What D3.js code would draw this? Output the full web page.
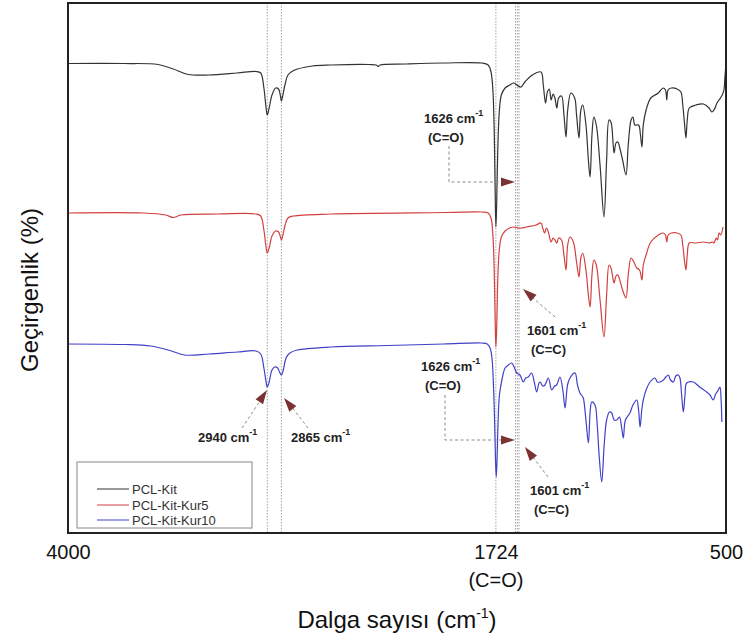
<!DOCTYPE html>
<html>
<head>
<meta charset="utf-8">
<script src="https://cdn.jsdelivr.net/npm/d3@7"></script>
<style>
  body { margin: 0; background: #fff; }
  text { font-family: "Liberation Sans", Arial, sans-serif; }
</style>
</head>
<body>
<div id="chart"></div>
<script>
// wavenumber (cm-1) and transmittance (a.u., spectra stacked)
var pclKit = [
  [4000,469.5],[3700,469.5],[3520,468.5],[3440,464],[3360,458.5],[3250,458],[3100,460],[3000,461.5],[2975,460],
  [2958,445],[2948,428],[2940,418],[2930,425],[2915,438],[2895,445],[2880,444],[2870,437],[2865,432],[2858,437],
  [2845,449],[2830,458],[2800,462.5],[2700,467],[2600,468],[2400,468.5],[2360,468],[2350,466.5],[2340,468],
  [2200,469],[2000,470],[1800,470],[1765,468],[1750,461],[1740,443],[1733,403],[1728,343],[1724,306],[1720,328],
  [1714,383],[1706,421],[1695,438],[1675,445],[1650,448],[1628,450],[1605,447],[1590,446],[1570,451],[1530,458],
  [1484,461],[1472,448],[1460,430],[1450,441],[1440,444],[1430,433],[1420,439],[1410,435],[1400,425],[1390,435],
  [1375,437],[1362,418],[1351,396],[1342,423],[1325,440],[1305,435],[1295,418],[1282,395],[1272,423],[1262,428],
  [1245,408],[1232,373],[1223,356],[1213,398],[1203,416],[1190,408],[1170,368],[1149,316],[1135,373],[1122,413],
  [1112,411],[1100,388],[1095,380],[1085,390],[1075,391],[1065,385],[1050,373],[1032,358],[1020,388],[1005,413],
  [995,416],[985,408],[965,408],[955,398],[947,386],[940,408],[925,423],[900,435],[860,440],[835,445],[822,443],
  [815,433],[808,443],[790,445],[760,444],[740,441],[730,428],[720,408],[713,395],[706,413],[695,425],[660,428],
  [620,429],[590,425],[575,421],[564,423],[548,430],[537,433],[520,438],[511,443],[506,455],[502,465]
];
var pclKitKur5 = [
  [4000,320],[3600,320],[3480,318],[3440,315.5],[3400,318],[3200,319],[3000,319],[2975,317],[2958,303],[2948,288],
  [2940,280],[2930,285],[2915,297],[2895,302],[2880,301],[2870,296],[2865,293],[2858,297],[2845,308],[2830,315],
  [2800,317],[2600,319],[2000,320.5],[1800,321],[1765,320],[1750,315],[1740,298],[1733,263],[1728,213],[1724,186],
  [1720,203],[1714,253],[1706,283],[1695,296],[1675,302],[1650,305],[1628,306],[1605,305],[1585,305],[1560,306],
  [1510,308],[1484,310],[1475,305],[1465,300],[1455,305],[1445,301],[1430,291],[1420,295],[1410,293],[1400,290],
  [1390,295],[1375,293],[1362,278],[1351,263],[1342,288],[1330,296],[1312,291],[1295,271],[1282,256],[1272,275],
  [1262,280],[1245,263],[1232,238],[1223,226],[1213,258],[1203,273],[1190,268],[1170,233],[1149,196],[1135,238],
  [1122,268],[1112,265],[1100,253],[1095,250],[1085,257],[1075,258],[1065,253],[1050,243],[1032,235],[1020,258],
  [1005,275],[990,271],[975,265],[960,263],[947,253],[940,268],[925,278],[900,291],[860,298],[835,300],[822,298],
  [815,291],[808,298],[790,300],[760,300],[740,298],[730,288],[720,271],[713,263],[706,278],[695,290],[660,290],
  [620,291],[590,290],[570,291],[564,290],[552,295],[545,293],[537,300],[528,298],[516,306]
];
var pclKitKur10 = [
  [4000,189],[3700,188.5],[3560,187],[3450,182],[3380,178],[3250,179],[3100,181],[3000,182],[2975,179],[2958,165],
  [2948,153],[2940,146],[2930,151],[2915,163],[2900,166],[2885,165],[2875,161],[2865,158],[2855,163],[2840,175],
  [2820,180],[2780,183],[2600,186],[2300,187.5],[2000,189],[1800,190],[1770,189],[1755,185],[1745,175],[1738,153],
  [1731,113],[1726,73],[1722,56],[1718,73],[1712,113],[1705,138],[1690,155],[1675,165],[1658,168],[1640,170],
  [1625,165],[1613,160],[1596,158],[1578,151],[1565,155],[1552,156],[1534,160],[1520,151],[1507,141],[1495,150],
  [1489,151],[1475,147],[1463,148],[1445,155],[1427,143],[1412,147],[1401,148],[1383,156],[1368,143],[1356,125],
  [1343,148],[1330,155],[1303,160],[1290,148],[1277,140],[1265,137],[1259,135],[1245,113],[1232,90],[1222,123],
  [1214,131],[1197,128],[1185,108],[1175,78],[1161,51],[1148,88],[1135,113],[1120,121],[1108,120],[1095,113],
  [1081,113],[1067,116],[1055,105],[1046,95],[1035,113],[1011,120],[995,128],[975,133],[965,123],[957,106],
  [948,123],[940,133],[925,143],[904,151],[878,155],[865,151],[851,151],[833,153],[820,156],[807,158],[795,153],
  [780,151],[767,157],[754,158],[745,155],[736,138],[727,121],[718,138],[709,150],[674,151],[640,146],[603,141],
  [585,138],[568,133],[555,139],[541,143],[532,146],[526,133],[522,111]
];

var seriesNames = ["PCL-Kit", "PCL-Kit-Kur5", "PCL-Kit-Kur10"];
var colors = ["#333333", "#d24040", "#4040c8"];
var tickValues = [4000, 1724, 500];
var markerLines = [2940, 2865, 1724, 1620, 1610, 1601];

var W = 746, H = 638;
var margin = {top: 3, right: 20, bottom: 105, left: 68};
var pw = W - margin.left - margin.right;
var ph = H - margin.top - margin.bottom;

var svg = d3.select("#chart").append("svg")
  .attr("width", W)
  .attr("height", H);

var x = d3.scaleLinear().domain([4000, 500]).range([margin.left, margin.left + pw]);
var y = d3.scaleLinear().domain([0, 530]).range([margin.top + ph, margin.top]);

// dotted marker lines
svg.append("g").selectAll("line")
  .data(markerLines)
  .enter().append("line")
  .attr("x1", function(d) { return x(d); })
  .attr("x2", function(d) { return x(d); })
  .attr("y1", margin.top)
  .attr("y2", margin.top + ph)
  .attr("stroke", "#8a8a8a")
  .attr("stroke-width", 0.8)
  .attr("stroke-dasharray", "1.5,1.5");

var line = d3.line()
  .x(function(d) { return x(d[0]); })
  .y(function(d) { return y(d[1]); })
  .curve(d3.curveCatmullRom.alpha(0.5));

svg.append("g").selectAll("path")
  .data([pclKit, pclKitKur5, pclKitKur10])
  .enter().append("path")
  .attr("d", line)
  .attr("fill", "none")
  .attr("stroke", function(d, i) { return colors[i]; })
  .attr("stroke-width", 1.2);

// frame
svg.append("rect")
  .attr("x", margin.left)
  .attr("y", margin.top)
  .attr("width", pw)
  .attr("height", ph)
  .attr("fill", "none")
  .attr("stroke", "#222")
  .attr("stroke-width", 2);

// x axis labels (no tick marks)
var xAxis = d3.axisBottom(x).tickValues(tickValues).tickSize(0).tickPadding(12)
  .tickFormat(d3.format("d"));
var gx = svg.append("g")
  .attr("transform", "translate(0," + (margin.top + ph) + ")")
  .call(xAxis);
gx.select(".domain").remove();
gx.selectAll("text")
  .attr("font-family", "Liberation Sans, Arial, sans-serif")
  .attr("font-size", 20)
  .attr("fill", "#111");

svg.append("text")
  .attr("x", x(1724))
  .attr("y", 587)
  .attr("text-anchor", "middle")
  .attr("font-size", 20)
  .attr("fill", "#111")
  .text("(C=O)");

var xt = svg.append("text")
  .attr("x", 397)
  .attr("y", 628)
  .attr("text-anchor", "middle")
  .attr("font-size", 24)
  .attr("fill", "#111");
xt.append("tspan").text("Dalga sayısı (cm");
xt.append("tspan").attr("font-size", 14).attr("dy", -10).text("-1");
xt.append("tspan").attr("dy", 10).text(")");

svg.append("text")
  .attr("transform", "translate(38,290) rotate(-90)")
  .attr("text-anchor", "middle")
  .attr("font-size", 24)
  .attr("fill", "#111")
  .text("Geçirgenlik (%)");

// annotations
var arrowColor = "#7a3232";
var dashColor = "#8c8c8c";

function arrowHead(x1, y1, x2, y2) {
  // triangle pointing from (x1,y1) towards tip (x2,y2)
  var a = Math.atan2(y2 - y1, x2 - x1);
  var len = 14, hw = 4.5;
  var bx = x2 - len * Math.cos(a), by = y2 - len * Math.sin(a);
  var px = -Math.sin(a) * hw, py = Math.cos(a) * hw;
  svg.append("path")
    .attr("d", "M" + x2 + "," + y2 + "L" + (bx + px) + "," + (by + py) + "L" + (bx - px) + "," + (by - py) + "Z")
    .attr("fill", arrowColor);
}

function dashed(d) {
  svg.append("path")
    .attr("d", d)
    .attr("fill", "none")
    .attr("stroke", dashColor)
    .attr("stroke-width", 1)
    .attr("stroke-dasharray", "3,2.5");
}

function label(tx, ty, num, anchor, sub) {
  var t = svg.append("text")
    .attr("x", tx).attr("y", ty)
    .attr("text-anchor", anchor || "start")
    .attr("font-size", 13)
    .attr("font-weight", "bold")
    .attr("fill", "#222");
  t.append("tspan").text(num + " cm");
  t.append("tspan").attr("font-size", 9).attr("dy", -7).text("-1");
  if (sub) {
    svg.append("text")
      .attr("x", tx + 4).attr("y", ty + 19)
      .attr("font-size", 13)
      .attr("font-weight", "bold")
      .attr("fill", "#222")
      .text(sub);
  }
}

// 1626 C=O (upper)
label(424, 123, 1626, "start", "(C=O)");
dashed("M449,146V182H502");
arrowHead(495, 182, 515, 182);

// 1601 C=C (middle)
dashed("M555,317L533,298");
arrowHead(553, 315, 523, 289);
label(527, 335, 1601, "start", "(C=C)");

// 1626 C=O (lower)
label(421, 371, 1626, "start", "(C=O)");
dashed("M445,395V440H502");
arrowHead(495, 440, 515, 440);

// 1601 C=C (lower)
dashed("M548,477L532,456");
arrowHead(546, 475, 525, 447);
label(530, 495, 1601, "start", "(C=C)");

// 2940 / 2865
dashed("M242,428L262,398");
arrowHead(244, 425, 267, 390);
dashed("M308,428L291,406");
arrowHead(306, 425, 284, 398);
label(198, 442, 2940, "start");
label(291, 442, 2865, "start");

// legend
var lg = svg.append("g");
lg.append("rect")
  .attr("x", 77).attr("y", 462)
  .attr("width", 175).attr("height", 66)
  .attr("fill", "#fff")
  .attr("stroke", "#888")
  .attr("stroke-width", 1);
var lineYs = [489, 505, 520];
lg.selectAll("line.item")
  .data(seriesNames)
  .enter().append("line")
  .attr("x1", 97).attr("x2", 129)
  .attr("y1", function(d, i) { return lineYs[i]; })
  .attr("y2", function(d, i) { return lineYs[i]; })
  .attr("stroke", function(d, i) { return colors[i]; })
  .attr("stroke-width", 1);
lg.selectAll("text")
  .data(seriesNames)
  .enter().append("text")
  .attr("x", 132)
  .attr("y", function(d, i) { return lineYs[i] + 4.5; })
  .attr("font-size", 13)
  .attr("fill", "#333")
  .text(function(d) { return d; });
</script>
</body>
</html>
